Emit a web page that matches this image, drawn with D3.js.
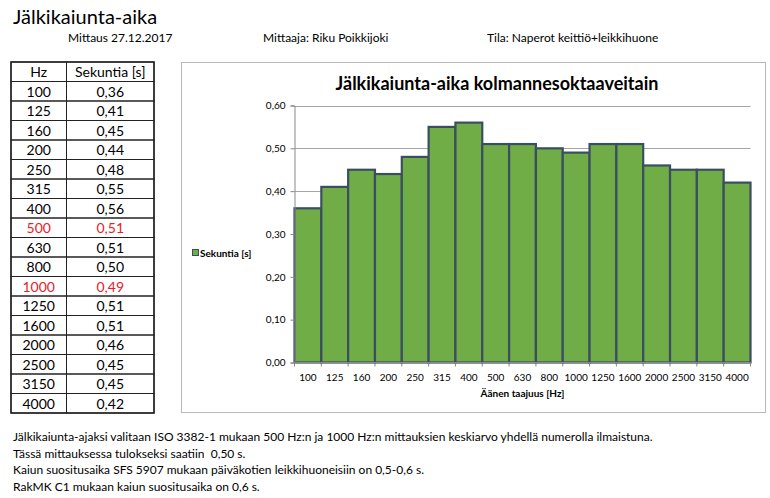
<!DOCTYPE html>
<html>
<head>
<meta charset="utf-8">
<script src="https://cdn.jsdelivr.net/npm/d3@7"></script>
<style>
  body { margin: 0; background: #fff; }
  text { font-family: Lato, "Open Sans", sans-serif; white-space: pre; }
</style>
</head>
<body>
<svg id="page" width="770" height="498"></svg>
<script>
var freqs = ["100", "125", "160", "200", "250", "315", "400", "500", "630", "800",
             "1000", "1250", "1600", "2000", "2500", "3150", "4000"];
var seconds = [0.36, 0.41, 0.45, 0.44, 0.48, 0.55, 0.56, 0.51, 0.51, 0.50,
               0.49, 0.51, 0.51, 0.46, 0.45, 0.45, 0.42];
var highlighted = ["500", "1000"];
var yTicks = [0, 0.1, 0.2, 0.3, 0.4, 0.5, 0.6];
var notes = [
  "Jälkikaiunta-ajaksi valitaan ISO 3382-1 mukaan 500 Hz:n ja 1000 Hz:n mittauksien keskiarvo yhdellä numerolla ilmaistuna.",
  "Tässä mittauksessa tulokseksi saatiin  0,50 s.",
  "Kaiun suositusaika SFS 5907 mukaan päiväkotien leikkihuoneisiin on 0,5-0,6 s.",
  "RakMK C1 mukaan kaiun suositusaika on 0,6 s."
];

var fmt = function (v) { return d3.format(".2f")(v).replace(".", ","); };
var svg = d3.select("#page");

// header
svg.append("text").attr("x", 13).attr("y", 24)
  .attr("font-size", 20).attr("fill", "#000").text("Jälkikaiunta-aika");
var meta = [["Mittaus 27.12.2017", 68], ["Mittaaja: Riku Poikkijoki", 263],
            ["Tila: Naperot keittiö+leikkihuone", 487]];
svg.selectAll("text.meta").data(meta).enter().append("text")
  .attr("class", "meta").attr("x", function (d) { return d[1]; }).attr("y", 42)
  .attr("font-size", 12).text(function (d) { return d[0]; });

// table
var tbl = { left: 11, mid: 66.5, right: 154, top: 62, rowH: 19.5 };
var rows = [["Hz", "Sekuntia [s]"]].concat(freqs.map(function (f, i) { return [f, fmt(seconds[i])]; }));
var tg = svg.append("g");
var r = tg.selectAll("g").data(rows).enter().append("g")
  .attr("transform", function (d, i) { return "translate(0," + (tbl.top + i * tbl.rowH) + ")"; });
r.append("rect").attr("x", tbl.left).attr("width", tbl.mid - tbl.left).attr("height", tbl.rowH)
  .attr("fill", "none").attr("stroke", "#222").attr("stroke-width", 1);
r.append("rect").attr("x", tbl.mid).attr("width", tbl.right - tbl.mid).attr("height", tbl.rowH)
  .attr("fill", "none").attr("stroke", "#222").attr("stroke-width", 1);
r.selectAll("text").data(function (d) { return d; }).enter().append("text")
  .attr("x", function (d, j) { return j === 0 ? (tbl.left + tbl.mid) / 2 : (tbl.mid + tbl.right) / 2; })
  .attr("y", 15).attr("text-anchor", "middle").attr("font-size", 14)
  .attr("fill", function () {
    var row = d3.select(this.parentNode).datum();
    return highlighted.indexOf(row[0]) >= 0 ? "#e8202a" : "#000";
  })
  .text(function (d) { return d; });
tg.append("rect").attr("x", tbl.left).attr("y", tbl.top)
  .attr("width", tbl.right - tbl.left).attr("height", rows.length * tbl.rowH)
  .attr("fill", "none").attr("stroke", "#222").attr("stroke-width", 1.5);

// chart frame
svg.append("rect").attr("x", 181.5).attr("y", 62.5).attr("width", 584).attr("height", 350)
  .attr("fill", "#fff").attr("stroke", "#b8b8b8");
svg.append("text").attr("x", 497).attr("y", 90).attr("text-anchor", "middle")
  .attr("font-size", 18).attr("font-weight", "bold").text("Jälkikaiunta-aika kolmannesoktaaveitain");

var plot = { left: 294.5, right: 750.5, top: 105.5, bottom: 362.5 };
var x = d3.scaleBand().domain(freqs).range([plot.left, plot.right]).padding(0);
var y = d3.scaleLinear().domain([0, 0.6]).range([plot.bottom, plot.top]);

// gridlines
svg.append("g").selectAll("line").data(yTicks.slice(1)).enter().append("line")
  .attr("x1", plot.left).attr("x2", plot.right)
  .attr("y1", function (d) { return Math.round(y(d)) + 0.5; })
  .attr("y2", function (d) { return Math.round(y(d)) + 0.5; })
  .attr("stroke", "#a6a6a6");

// bars
svg.append("g").selectAll("rect").data(seconds).enter().append("rect")
  .attr("x", function (d, i) { return x(freqs[i]); })
  .attr("y", function (d) { return y(d); })
  .attr("width", x.bandwidth())
  .attr("height", function (d) { return plot.bottom - y(d); })
  .attr("fill", "#70ad47").attr("stroke", "#3b4e61").attr("stroke-width", 2.2);

// y axis
var yAxis = d3.axisLeft(y).tickValues(yTicks).tickSize(4).tickFormat(fmt);
var ya = svg.append("g").attr("transform", "translate(" + plot.left + ",0)").call(yAxis);
ya.select(".domain").attr("stroke", "#888");
ya.selectAll(".tick line").attr("stroke", "#888");
ya.selectAll(".tick text").attr("font-family", "Lato, sans-serif").attr("font-size", 10)
  .attr("fill", "#000").attr("x", -9);

// x axis with ticks between categories
var xa = svg.append("g").attr("transform", "translate(0," + plot.bottom + ")");
xa.append("line").attr("x1", plot.left).attr("x2", plot.right).attr("stroke", "#888");
xa.selectAll("line.tk").data(freqs.concat(["end"])).enter().append("line").attr("class", "tk")
  .attr("x1", function (d, i) { return plot.left + i * x.step(); })
  .attr("x2", function (d, i) { return plot.left + i * x.step(); })
  .attr("y1", 0).attr("y2", 4).attr("stroke", "#888");
xa.selectAll("text").data(freqs).enter().append("text")
  .attr("x", function (d) { return x(d) + x.bandwidth() / 2; }).attr("y", 18)
  .attr("text-anchor", "middle").attr("font-size", 10).text(function (d) { return d; });
svg.append("text").attr("x", (plot.left + plot.right) / 2).attr("y", 397)
  .attr("text-anchor", "middle").attr("font-size", 10).attr("font-weight", "bold")
  .text("Äänen taajuus [Hz]");

// legend
svg.append("rect").attr("x", 192.5).attr("y", 249.5).attr("width", 6).attr("height", 6)
  .attr("fill", "#70ad47").attr("stroke", "#3b4e61").attr("stroke-width", 1);
svg.append("text").attr("x", 200).attr("y", 256.5).attr("font-size", 10).attr("font-weight", "bold")
  .text("Sekuntia [s]");

// notes below
svg.selectAll("text.note").data(notes).enter().append("text").attr("class", "note")
  .attr("x", 13).attr("y", function (d, i) { return 441 + i * 16.7; })
  .attr("font-size", 12).text(function (d) { return d; });
</script>
</body>
</html>
